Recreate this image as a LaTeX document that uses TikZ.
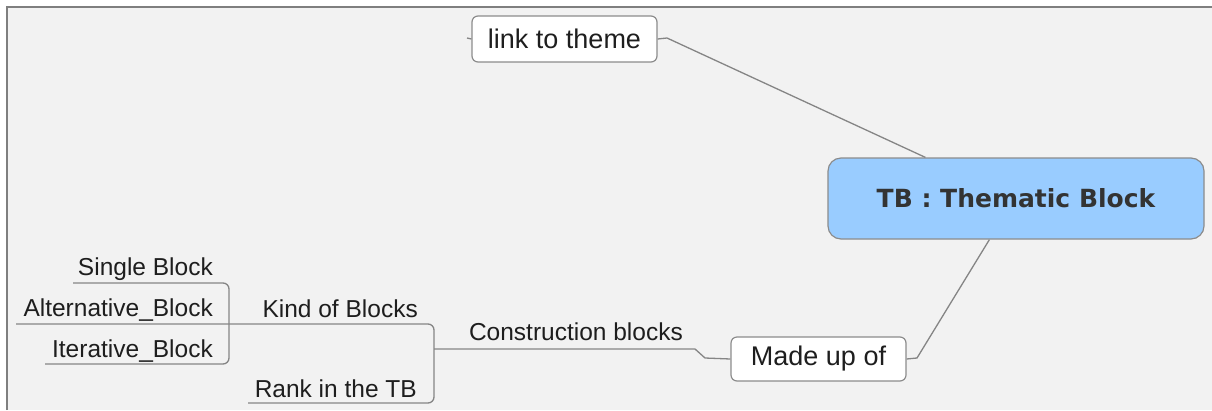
\documentclass[tikz,border=0pt]{standalone}
\usepackage{fontspec}
\setmainfont{Liberation Sans}
\newfontfamily\tbfont{DejaVu Sans}
\definecolor{bgc}{HTML}{F2F2F2}
\definecolor{framec}{HTML}{7F7F7F}
\definecolor{linec}{HTML}{858585}
\definecolor{boxc}{HTML}{8C8C8C}
\definecolor{tbfill}{HTML}{99CCFF}
\definecolor{txtc}{HTML}{1E1E1E}
\definecolor{tbtxt}{HTML}{333333}
\begin{document}
\begin{tikzpicture}[x=1pt,y=-1pt,
  conn/.style={draw=linec, line width=1.3pt},
  wbox/.style={draw=boxc, fill=white, line width=1.2pt, rounded corners=6pt, inner sep=0pt,
     text=txtc, font=\fontsize{27}{30}\selectfont},
  tbbox/.style={draw=boxc, fill=tbfill, line width=1.2pt, rounded corners=13pt, inner sep=0pt,
     text=tbtxt, font=\tbfont\bfseries\fontsize{25}{28}\selectfont},
  lbl/.style={anchor=base east, inner sep=0pt, text=txtc, font=\fontsize{24.5}{28}\selectfont}]
\useasboundingbox (0,0) rectangle (1212,410);
\fill[white] (0,0) rectangle (1212,410);
\fill[bgc] (7,7) rectangle (1212,410);
\draw[framec, line width=2pt] (7,410) -- (7,7) -- (1212,7);

% boxed nodes
\node[wbox, minimum width=185pt, minimum height=46pt] (link) at (564.5,39) {link to theme};
\node[tbbox, minimum width=376pt, minimum height=81pt] (tb) at (1016,198.5) {TB : Thematic Block};
\node[wbox, minimum width=175pt, minimum height=44pt] (made) at (818.5,359) {Made up of};

% labels
\node[lbl] (single) at (213,275) {Single Block};
\node[lbl] (alt) at (213,316) {Alternative\_Block};
\node[lbl] (iter) at (213,357) {Iterative\_Block};
\node[lbl] (kind) at (418,317) {Kind of Blocks};
\node[lbl] (rank) at (417,397) {Rank in the TB};
\node[lbl] (constr) at (683,340) {Construction blocks};

% connector points
\coordinate (l1) at (667,38);
\coordinate (tbtop) at ([xshift=98pt]tb.north west);
\coordinate (tbbot) at ([xshift=162pt]tb.south west);
\coordinate (m1) at (917,358);
\coordinate (m2) at (705,358);
\coordinate (m3) at (695,349);
\coordinate (c1) at (434,349);
\coordinate (stub) at (467,38);

% connectors
\draw[conn] (link.east) -- (l1) -- (tbtop);
\draw[conn] (link.west) -- (stub);
\draw[conn] (tbbot) -- (m1) -- (made.east);
\draw[conn] (made.west) -- (m2) -- (m3) -- (c1);
\draw[conn, rounded corners=6pt] (16,324) -- (434,324) -- (434,403) -- (248,403);
\draw[conn, rounded corners=6pt] (73,283) -- (229,283) -- (229,364) -- (45,364);
\end{tikzpicture}
\end{document}
